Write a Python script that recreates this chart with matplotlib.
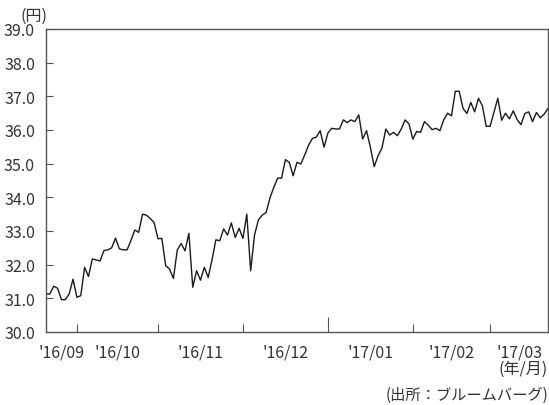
import numpy as np
import pandas as pd
import matplotlib
matplotlib.use("Agg")
import matplotlib.pyplot as plt

# Japanese text needs a CJK family, DejaVu as fallback
plt.rcParams['font.family'] = ['Noto Sans CJK JP', 'DejaVu Sans']

# ─────────────────────────────────────────────────────────────
# DATA  (daily close, business days 2016-09-21 .. 2017-03-22)
# ─────────────────────────────────────────────────────────────
START_DATE = '2016-09-21'
END_DATE   = '2017-03-22'

prices = [
    31.13, 31.13, 31.36, 31.30, 30.96, 30.96, 31.13, 31.57, 31.03, 31.08,
    31.92, 31.65, 32.17, 32.14, 32.11, 32.42, 32.44, 32.50, 32.79, 32.47,
    32.44, 32.44, 32.72, 33.03, 32.96, 33.50, 33.47, 33.37, 33.25, 32.77,
    32.78, 31.97, 31.87, 31.59, 32.44, 32.63, 32.41, 32.93, 31.33, 31.82,
    31.54, 31.92, 31.62, 32.15, 32.74, 32.71, 33.06, 32.88, 33.24, 32.81,
    33.08, 32.78, 33.50, 31.82, 32.88, 33.33, 33.47, 33.55, 33.98, 34.30,
    34.57, 34.57, 35.12, 35.04, 34.64, 35.04, 34.99, 35.26, 35.55, 35.75,
    35.79, 35.98, 35.49, 35.91, 36.05, 36.03, 36.03, 36.30, 36.22, 36.30,
    36.25, 36.45, 35.73, 35.98, 35.49, 34.91, 35.24, 35.46, 36.03, 35.85,
    35.93, 35.83, 36.03, 36.30, 36.18, 35.73, 35.96, 35.93, 36.25, 36.14,
    36.01, 36.05, 35.98, 36.30, 36.50, 36.42, 37.15, 37.15, 36.64, 36.49,
    36.82, 36.54, 36.94, 36.72, 36.11, 36.11, 36.52, 36.94, 36.29, 36.50,
    36.33, 36.57, 36.31, 36.16, 36.49, 36.54, 36.25, 36.52, 36.36, 36.47,
    36.64,
]

month_labels = ["'16/09", "'16/10", "'16/11", "'16/12", "'17/01", "'17/02", "'17/03"]
y_ticks      = [30.0, 31.0, 32.0, 33.0, 34.0, 35.0, 36.0, 37.0, 38.0, 39.0]

# ─────────────────────────────────────────────────────────────
# X POSITIONS  (evenly spaced business days, ticks at month starts)
# ─────────────────────────────────────────────────────────────
dates = pd.bdate_range(START_DATE, END_DATE)
x = np.arange(len(dates))

month_starts = [i for i in range(1, len(dates)) if dates[i].month != dates[i - 1].month]
edges = [0] + month_starts + [len(dates) - 1]
label_pos = [(a + b) / 2 for a, b in zip(edges[:-1], edges[1:])]

# ─────────────────────────────────────────────────────────────
# PLOT
# ─────────────────────────────────────────────────────────────
fig = plt.figure(figsize=(5.49, 4.06), dpi=100)
ax = fig.add_axes([46 / 549, 1 - 333 / 406, 502 / 549, 303 / 406])

ax.plot(x, prices, color='#1a1a1a', linewidth=1.0)

ax.set_xlim(0, len(dates) - 1)
ax.set_ylim(30, 39)

for s in ax.spines.values():
    s.set_color('#555555')
    s.set_linewidth(1.0)

# y axis
ax.set_yticks(y_ticks)
ax.set_yticklabels([f"{v:.1f}" for v in y_ticks])
ax.tick_params(axis='y', direction='in', length=5, width=0.8, color='#555555',
               labelsize=11.5, labelcolor='#333333', pad=8)

# x axis: boundary ticks (inward), labels centred in each month
ax.set_xticks(month_starts)
ax.set_xticklabels([])
ax.tick_params(axis='x', which='major', direction='in', length=6, width=0.8,
               color='#555555')
ax.set_xticks(label_pos, minor=True)
ax.set_xticklabels(month_labels, minor=True)
ax.tick_params(axis='x', which='minor', length=0, labelsize=11.5,
               labelcolor='#333333', pad=8)

# longer tick at the year boundary
for pos, tick in zip(month_starts, ax.xaxis.get_major_ticks()):
    if dates[pos].month == 1:
        tick.tick1line.set_markersize(11)

# annotations
fig.text(20 / 549, 1 - 16 / 406, "(円)", fontsize=11.5, color='#333333',
         ha='left', va='center')
fig.text(548 / 549, 1 - 369 / 406, "(年/月)", fontsize=11.5, color='#333333',
         ha='right', va='center')
fig.text(548 / 549, 1 - 395 / 406, "(出所：ブルームバーグ)", fontsize=11,
         color='#333333', ha='right', va='center')

plt.savefig("out.png", dpi=100)
plt.close()
